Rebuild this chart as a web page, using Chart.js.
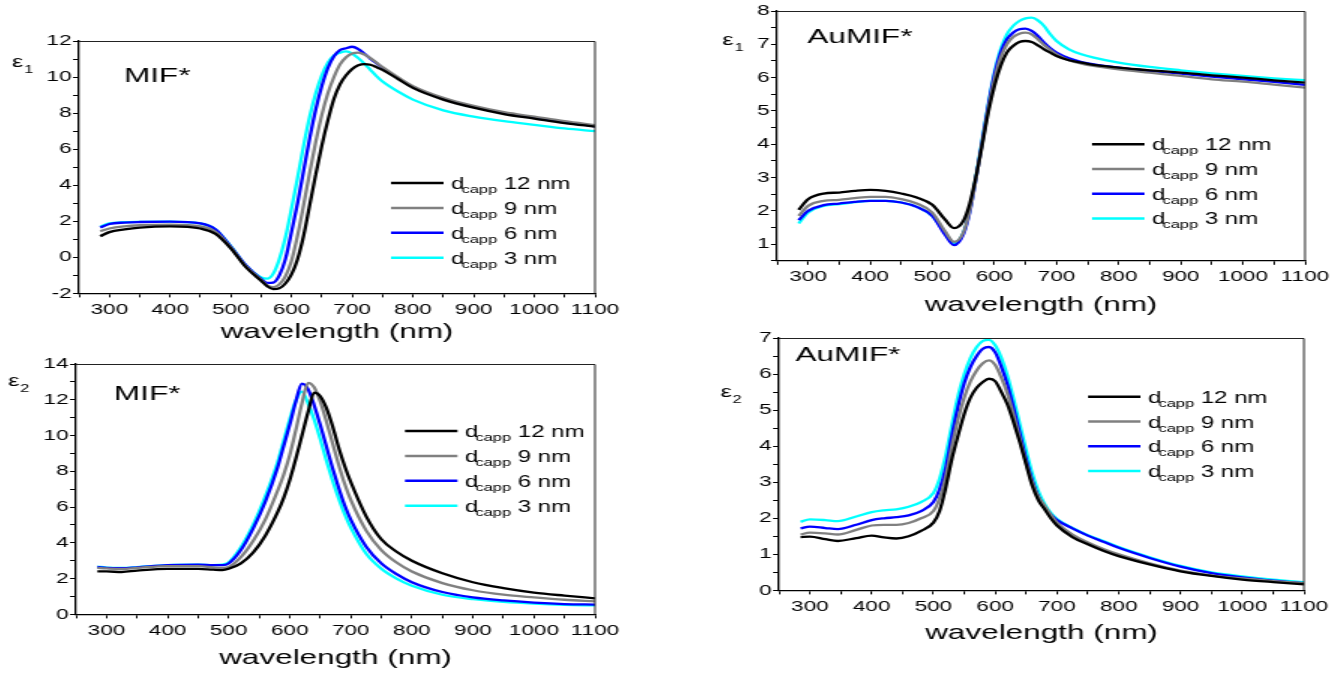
<!DOCTYPE html>
<html>
<head>
<meta charset="utf-8">
<script src="https://cdn.jsdelivr.net/npm/chart.js@4.4.1/dist/chart.umd.min.js"></script>
<style>
html, body { margin: 0; padding: 0; background: #fff; overflow: hidden; width: 1338px; height: 675px; }
canvas { position: absolute; transform: scaleX(1.5); transform-origin: 0 0; }
</style>
</head>
<body>
<canvas id="p1"></canvas>
<canvas id="p2"></canvas>
<canvas id="p3"></canvas>
<canvas id="p4"></canvas>
<script>
// capping thickness series (same in all four panels)
const cappLabels = ['12 nm', '9 nm', '6 nm', '3 nm'];
const cappColors = ['#000000', '#808080', '#0000ff', '#00ffff'];

// MIF* , eps1
const wlMifE1 = [285,300,325,350,400,450,475,500,525,550,560,570,580,590,600,610,620,630,640,650,660,670,680,690,700,710,720,730,740,750,775,800,850,900,950,1000,1050,1100];
const mifE1_12 = [1.17,1.4,1.55,1.65,1.72,1.6,1.3,0.5,-0.55,-1.3,-1.6,-1.76,-1.72,-1.45,-0.95,-0.1,1.2,2.9,4.6,6.2,7.6,8.8,9.6,10.1,10.45,10.65,10.72,10.68,10.55,10.4,9.9,9.4,8.75,8.3,7.95,7.7,7.45,7.25];
const mifE1_9  = [1.45,1.6,1.72,1.78,1.82,1.72,1.42,0.55,-0.5,-1.25,-1.55,-1.65,-1.5,-1.05,-0.2,1.2,2.9,4.7,6.4,7.9,9.1,10.0,10.7,11.1,11.3,11.35,11.25,11.05,10.8,10.55,10.0,9.5,8.85,8.4,8.05,7.8,7.55,7.33];
const mifE1_6  = [1.65,1.85,1.93,1.96,1.98,1.88,1.55,0.6,-0.45,-1.2,-1.42,-1.4,-1.0,-0.1,1.4,3.0,4.8,6.6,8.2,9.5,10.5,11.15,11.5,11.6,11.68,11.55,11.3,11.02,10.77,10.52,9.95,9.45,8.8,8.35,8.0,7.75,7.5,7.27];
const mifE1_3  = [1.7,1.88,1.95,1.97,1.98,1.88,1.55,0.62,-0.45,-1.12,-1.18,-0.9,-0.1,1.1,2.7,4.4,6.2,7.8,9.1,10.1,10.8,11.2,11.35,11.42,11.3,11.05,10.75,10.4,10.05,9.75,9.2,8.75,8.15,7.8,7.55,7.35,7.15,7.0];

// AuMIF* , eps1
const wlAuE1 = [285,300,325,350,375,400,425,450,475,500,520,535,550,560,570,580,590,600,610,620,630,640,650,660,670,680,690,700,720,740,760,800,850,900,950,1000,1050,1100];
const auE1_12 = [2.03,2.35,2.52,2.55,2.6,2.63,2.6,2.52,2.4,2.18,1.75,1.48,1.7,2.2,3.0,3.95,4.95,5.75,6.35,6.75,6.95,7.07,7.1,7.07,6.97,6.85,6.75,6.65,6.52,6.45,6.38,6.3,6.22,6.15,6.07,6.0,5.92,5.85];
const auE1_9  = [1.85,2.15,2.3,2.33,2.38,2.42,2.42,2.35,2.22,1.95,1.4,1.07,1.35,2.0,2.95,4.0,5.05,5.95,6.6,7.0,7.22,7.32,7.35,7.3,7.15,6.98,6.83,6.7,6.52,6.42,6.35,6.25,6.15,6.05,5.95,5.88,5.79,5.7];
const auE1_6  = [1.72,2.0,2.17,2.22,2.27,2.3,2.3,2.25,2.12,1.85,1.3,0.97,1.3,1.95,2.95,4.05,5.15,6.1,6.75,7.15,7.35,7.45,7.47,7.4,7.25,7.05,6.88,6.75,6.58,6.47,6.4,6.3,6.2,6.12,6.03,5.95,5.87,5.78];
const auE1_3  = [1.62,1.95,2.15,2.2,2.26,2.3,2.3,2.25,2.12,1.85,1.35,1.03,1.35,2.0,3.0,4.1,5.2,6.15,6.85,7.3,7.55,7.7,7.78,7.8,7.72,7.55,7.3,7.1,6.85,6.7,6.6,6.45,6.32,6.22,6.13,6.05,5.98,5.92];

// MIF* , eps2
const wlMifE2 = [285,300,325,350,400,450,475,490,500,520,540,560,580,590,600,610,620,630,640,650,660,670,680,690,700,725,750,775,800,850,900,950,1000,1050,1100];
const mifE2_12 = [2.4,2.4,2.37,2.45,2.55,2.55,2.5,2.48,2.55,2.85,3.45,4.4,5.7,6.5,7.5,8.7,10.0,11.3,12.4,12.2,11.55,10.55,9.35,8.3,7.4,5.5,4.2,3.5,3.0,2.3,1.8,1.47,1.22,1.05,0.9];
const mifE2_9  = [2.6,2.57,2.54,2.6,2.7,2.7,2.63,2.6,2.65,3.2,4.1,5.3,6.9,7.8,8.9,10.3,11.8,12.95,12.7,11.9,10.8,9.6,8.4,7.3,6.4,4.7,3.6,2.9,2.4,1.75,1.35,1.1,0.95,0.82,0.73];
const mifE2_6  = [2.65,2.6,2.58,2.63,2.75,2.78,2.75,2.75,2.85,3.6,4.8,6.3,8.2,9.4,10.6,11.9,12.9,12.6,11.7,10.6,9.4,8.2,7.1,6.1,5.3,3.8,2.85,2.25,1.8,1.25,0.95,0.78,0.66,0.58,0.55];
const mifE2_3  = [2.67,2.62,2.6,2.64,2.76,2.78,2.76,2.78,2.9,3.75,5.0,6.6,8.5,9.7,10.9,11.95,12.45,11.8,10.9,9.8,8.6,7.5,6.5,5.6,4.85,3.4,2.55,2.0,1.6,1.1,0.85,0.7,0.6,0.53,0.5];

// AuMIF* , eps2
const wlAuE2 = [285,300,325,345,375,400,420,440,460,480,500,510,520,530,540,550,560,570,580,590,600,610,620,630,640,650,660,670,680,690,700,725,750,775,800,850,900,950,1000,1050,1100];
const auE2_12 = [1.48,1.49,1.42,1.37,1.45,1.52,1.47,1.44,1.5,1.65,1.88,2.2,2.85,3.65,4.3,4.9,5.35,5.62,5.78,5.87,5.8,5.5,5.15,4.65,4.1,3.5,2.9,2.5,2.25,2.0,1.8,1.48,1.28,1.1,0.95,0.72,0.53,0.4,0.3,0.23,0.17];
const auE2_9  = [1.55,1.6,1.58,1.55,1.68,1.8,1.82,1.82,1.87,2.0,2.2,2.55,3.15,4.0,4.75,5.35,5.8,6.1,6.3,6.38,6.25,5.9,5.45,4.85,4.2,3.55,3.0,2.6,2.35,2.1,1.88,1.55,1.33,1.15,1.0,0.75,0.55,0.42,0.33,0.26,0.2];
const auE2_6  = [1.72,1.77,1.73,1.7,1.82,1.95,2.0,2.03,2.08,2.2,2.45,2.8,3.4,4.3,5.1,5.75,6.2,6.5,6.7,6.75,6.6,6.2,5.7,5.05,4.35,3.65,3.05,2.6,2.3,2.1,1.95,1.72,1.52,1.35,1.18,0.9,0.66,0.48,0.36,0.27,0.2];
const auE2_3  = [1.9,1.97,1.95,1.92,2.05,2.17,2.22,2.25,2.32,2.45,2.7,3.1,3.75,4.6,5.4,6.0,6.45,6.75,6.92,6.95,6.8,6.45,5.95,5.3,4.6,3.9,3.25,2.75,2.4,2.15,1.98,1.73,1.53,1.37,1.2,0.92,0.68,0.5,0.39,0.3,0.23];

const FONT = '"Liberation Sans", Arial, sans-serif';
const S = 1.5;      // the figure is stretched horizontally
const WY = 50;      // y axis box width (canvas px)
const PADT = 12;
const PADR = 20;

// text, frame, eps label and the inline legend
const decor = {
    id: 'decor',
    afterDraw(chart, args, o) {
        const ctx = chart.ctx;
        const a = chart.chartArea;
        ctx.save();
        ctx.strokeStyle = '#222';
        ctx.lineWidth = 1;
        ctx.beginPath();
        ctx.moveTo(a.left, a.top + 0.5);
        ctx.lineTo(a.right, a.top + 0.5);
        ctx.lineTo(a.right, a.bottom);
        ctx.stroke();

        ctx.fillStyle = '#000';
        ctx.textBaseline = 'alphabetic';
        ctx.textAlign = 'left';
        ctx.font = '21px ' + FONT;
        ctx.fillText(o.tag, a.left + o.tagX, a.top + o.tagY);

        ctx.font = '17px ' + FONT;
        const ex = a.left + o.epsX, ey = a.top + o.epsY;
        ctx.fillText('\u03b5', ex, ey);
        const ew = ctx.measureText('\u03b5').width;
        ctx.font = '11px ' + FONT;
        ctx.fillText(o.epsSub, ex + ew + 0.5, ey + 6);

        chart.data.datasets.forEach(function(ds, i) {
            const y = a.top + o.legY + i * o.legDy;
            const x0 = a.left + o.legX;
            ctx.strokeStyle = ds.borderColor;
            ctx.lineWidth = 2.5;
            ctx.beginPath();
            ctx.moveTo(x0, y);
            ctx.lineTo(x0 + 35, y);
            ctx.stroke();
            let x = x0 + 40;
            ctx.font = '16px ' + FONT;
            ctx.fillText('d', x, y + 6);
            x += ctx.measureText('d').width - 2;
            ctx.font = '11px ' + FONT;
            ctx.fillText('capp', x, y + 10);
            x += ctx.measureText('capp').width;
            ctx.font = '16px ' + FONT;
            ctx.fillText(' ' + ds.label, x, y + 6);
        });
        ctx.restore();
    }
};

function makeSets(wl, series) {
    return series.map(function(vals, i) {
        return {
            label: cappLabels[i],
            data: wl.map(function(w, j) { return {x: w, y: vals[j]}; }),
            borderColor: cappColors[i],
            backgroundColor: cappColors[i],
            borderWidth: 2.3,
            pointRadius: 0,
            cubicInterpolationMode: 'monotone',
            fill: false
        };
    });
}

function makePanel(id, box, yax, deco, sets) {
    const cv = document.getElementById(id);
    cv.width = Math.round(WY + (box.r - box.l) / S + PADR);
    cv.height = Math.round(PADT + (box.b - box.t) + box.hx);
    cv.style.left = (box.l - S * WY) + 'px';
    cv.style.top = (box.t - PADT) + 'px';

    const tickFont = {family: FONT, size: 15};
    const grid = {display: true, drawOnChartArea: false, drawTicks: true, tickLength: 4, tickColor: '#000', tickWidth: 1, color: '#000'};

    new Chart(cv, {
        type: 'line',
        data: {datasets: sets},
        options: {
            responsive: false,
            animation: false,
            devicePixelRatio: 1,
            layout: {padding: {top: PADT, right: PADR, left: 0, bottom: 0}},
            plugins: {legend: {display: false}, tooltip: {enabled: false}, decor: deco},
            scales: {
                x: {
                    type: 'linear',
                    min: 250, max: 1100,
                    afterFit: function(s) { s.height = box.hx; },
                    grid: grid,
                    border: {display: true, color: '#000', width: 1.3},
                    ticks: {
                        stepSize: 50, autoSkip: false, maxRotation: 0, padding: 3,
                        color: '#000', font: tickFont,
                        callback: function(v) { return v % 100 === 0 ? String(v) : ''; }
                    },
                    title: {display: true, text: 'wavelength (nm)', color: '#000', padding: 0, font: {family: FONT, size: 21}}
                },
                y: {
                    type: 'linear',
                    min: yax.min, max: yax.max,
                    afterFit: function(s) { s.width = WY; },
                    grid: grid,
                    border: {display: true, color: '#000', width: 1.3},
                    ticks: {
                        stepSize: yax.step, autoSkip: false, padding: 1,
                        color: '#000', font: tickFont,
                        callback: function(v) {
                            const q = v / yax.every;
                            return Math.abs(q - Math.round(q)) < 1e-6 ? String(v) : '';
                        }
                    }
                }
            }
        },
        plugins: [decor]
    });
}

makePanel('p1', {l: 79, r: 595, t: 40.7, b: 293, hx: 51.6},
    {min: -2, max: 12, step: 1, every: 2},
    {tag: 'MIF*', tagX: 30, tagY: 41.3, epsSub: '1', epsX: -44.7, epsY: 26.3, legX: 208, legY: 142, legDy: 24.9},
    makeSets(wlMifE1, [mifE1_12, mifE1_9, mifE1_6, mifE1_3]));

makePanel('p2', {l: 776.6, r: 1304, t: 11, b: 260.7, hx: 57.2},
    {min: 0.5, max: 8, step: 0.5, every: 1},
    {tag: 'AuMIF*', tagX: 20.3, tagY: 32, epsSub: '1', epsX: -36.4, epsY: 34, legX: 210, legY: 133.3, legDy: 24.7},
    makeSets(wlAuE1, [auE1_12, auE1_9, auE1_6, auE1_3]));

makePanel('p3', {l: 76, r: 595, t: 364, b: 614, hx: 56.6},
    {min: 0, max: 14, step: 1, every: 2},
    {tag: 'MIF*', tagX: 25.3, tagY: 36, epsSub: '2', epsX: -45.3, epsY: 22, legX: 219.3, legY: 67, legDy: 24.9},
    makeSets(wlMifE2, [mifE2_12, mifE2_9, mifE2_6, mifE2_3]));

makePanel('p4', {l: 778.5, r: 1303, t: 338, b: 590, hx: 55.6},
    {min: 0, max: 7, step: 0.5, every: 1},
    {tag: 'AuMIF*', tagX: 11, tagY: 23, epsSub: '2', epsX: -39, epsY: 58.7, legX: 206, legY: 58.7, legDy: 24.8},
    makeSets(wlAuE2, [auE2_12, auE2_9, auE2_6, auE2_3]));
</script>
</body>
</html>
